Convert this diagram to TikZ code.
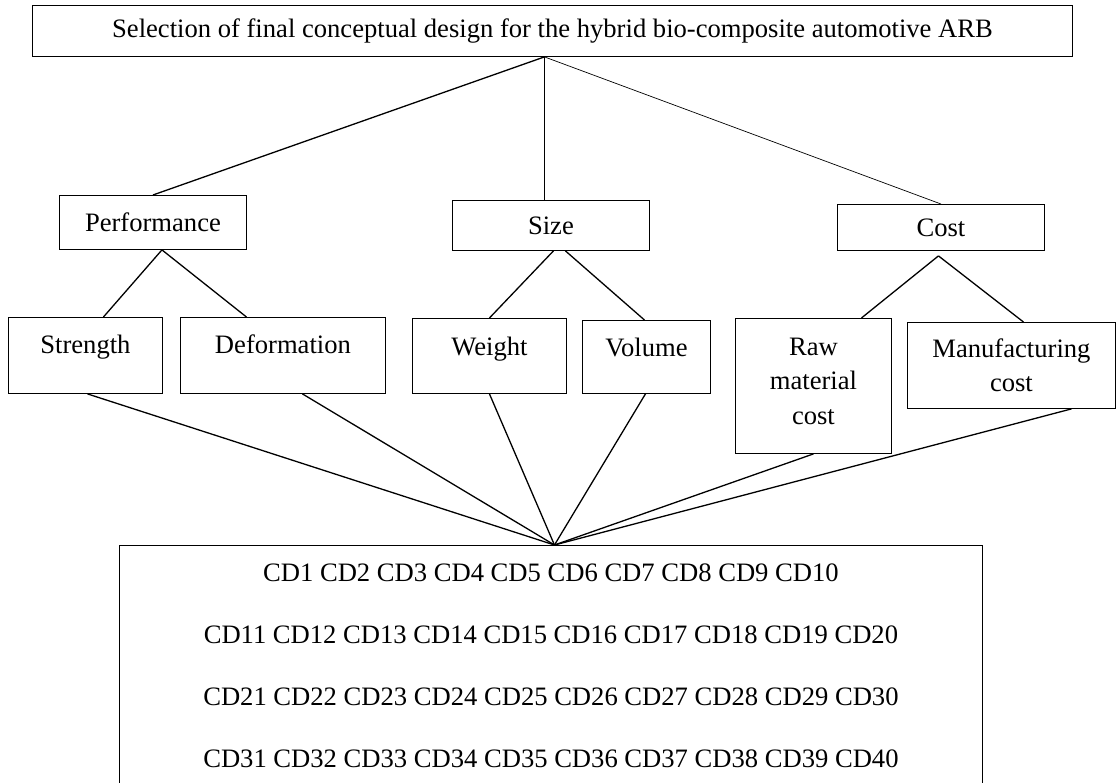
\documentclass[tikz,border=0pt]{standalone}
\usepackage{fontspec}
\setmainfont{Liberation Serif}
\usepackage{tikz}

\begin{document}
\begin{tikzpicture}[x=1pt, y=-1pt,
        box/.style={draw, line width=0.9pt, inner sep=0pt, anchor=north west, align=center, font=\fontsize{26.6}{34.5}\selectfont},
        link/.style={line width=1.3pt},
        thinlink/.style={line width=0.7pt}]
            \useasboundingbox (0, 0) rectangle (1116, 783);
            \clip (0, 0) rectangle (1116, 783);
            %
            \node[box, minimum width=1040, minimum height=51] (goal) at (32, 5) {Selection of final conceptual design for the hybrid bio-composite automotive ARB};
            %
            \node[box, minimum width=187, minimum height=54] (perf) at (59, 195) {Performance};
            \node[box, minimum width=197, minimum height=50] (size) at (452, 200) {Size};
            \node[box, minimum width=207, minimum height=46] (cost) at (837, 204) {Cost};
            %
            \node[box, minimum width=154, text height=36, text depth=40] (strength) at (8, 317) {Strength};
            \node[box, minimum width=205, text height=36, text depth=40] (deform) at (180, 317) {Deformation};
            \node[box, minimum width=154, text height=37, text depth=38] (weight) at (412, 318) {Weight};
            \node[box, minimum width=128, text height=36, text depth=37] (volume) at (582, 320) {Volume};
            \node[box, minimum width=156, text height=106, text depth=29] (raw) at (735, 318) {Raw\\material\\cost};
            \node[box, minimum width=208, minimum height=86] (manuf) at (907, 322) {Manufacturing\\cost};
            %
            \node[box, minimum width=863, minimum height=241, font=\fontsize{26.6}{62}\selectfont] (cds) at (119, 545)
                {CD1 CD2 CD3 CD4 CD5 CD6 CD7 CD8 CD9 CD10\\
                 CD11 CD12 CD13 CD14 CD15 CD16 CD17 CD18 CD19 CD20\\
                 CD21 CD22 CD23 CD24 CD25 CD26 CD27 CD28 CD29 CD30\\
                 CD31 CD32 CD33 CD34 CD35 CD36 CD37 CD38 CD39 CD40};
            %
            \coordinate (topjoin) at ([xshift=-8]goal.south);
            \coordinate (costjoin) at ([xshift=-2.5, yshift=-5]cost.south);
            \coordinate (cdjoin) at ([xshift=3.5]cds.north);
            %
            \draw[link] (topjoin) -- (perf.north);
            \draw[link] (topjoin) -- ([xshift=-6.5]size.north);
            \draw[thinlink] (topjoin) -- (cost.north);
            %
            \draw[link] ([xshift=9]perf.south) -- ([xshift=18]strength.north);
            \draw[link] ([xshift=9]perf.south) -- ([xshift=-36.5]deform.north);
            \draw[link] ([xshift=2.5]size.south) -- (weight.north);
            \draw[link] ([xshift=14.5]size.south) -- ([xshift=-2]volume.north);
            \draw[link] (costjoin) -- ([xshift=48]raw.north);
            \draw[link] (costjoin) -- ([xshift=12]manuf.north);
            %
            \draw[link] ([xshift=2]strength.south) -- (cdjoin);
            \draw[link] ([xshift=19.5]deform.south) -- (cdjoin);
            \draw[link] (weight.south) -- (cdjoin);
            \draw[link] ([xshift=-1]volume.south) -- (cdjoin);
            \draw[link] (raw.south) -- (cdjoin);
            \draw[link] ([xshift=60]manuf.south) -- (cdjoin);
\end{tikzpicture}
\end{document}
